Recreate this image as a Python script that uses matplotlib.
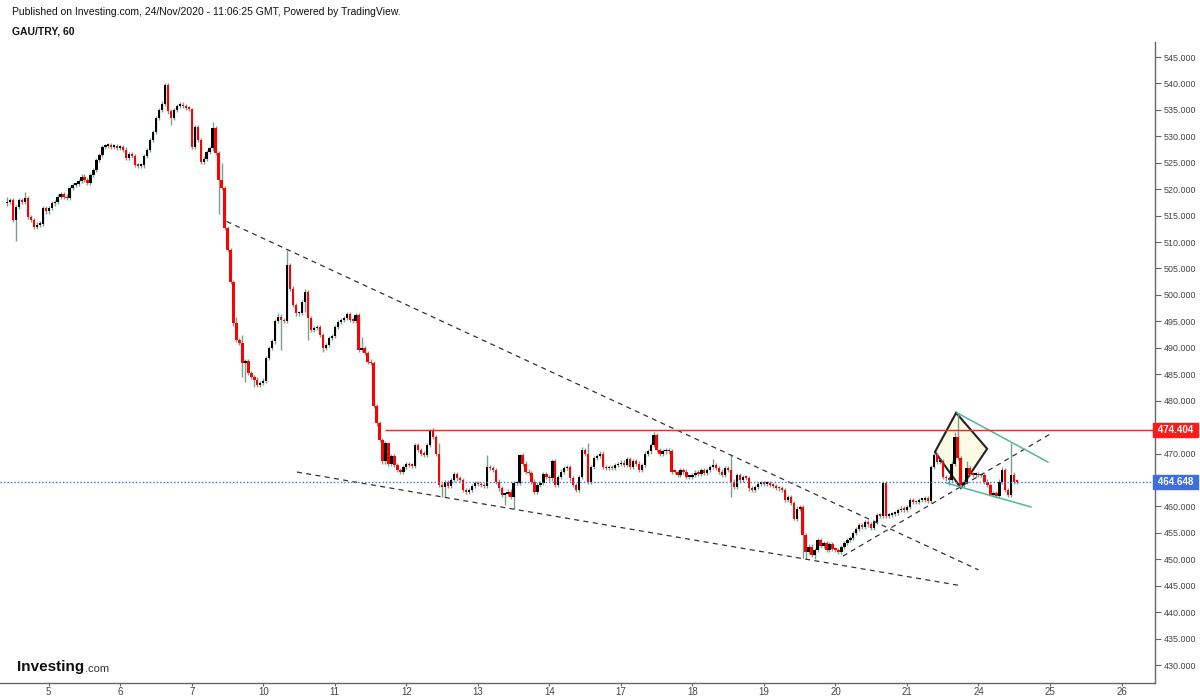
import matplotlib
matplotlib.use('Agg')
import matplotlib.pyplot as plt
import matplotlib.transforms as mtransforms
from matplotlib.patches import Polygon
import numpy as np

plt.rcParams['font.family'] = ['Liberation Sans', 'DejaVu Sans']

# ---- data (GAU/TRY, hourly) ----
first_open = 517.3
closes = [
    # 4th (partial)
    517.6, 518.0, 514.2, 516.7, 518.0, 517.6, 518.3, 514.8, 514.2, 512.8, 513.3, 513.5, 516.4, 515.8,
    # 5
    516.5, 517.3, 517.6, 518.6, 519.0, 518.6, 518.3, 520.2, 520.8, 521.0, 521.5, 522.4,
    521.8, 521.1, 522.7, 523.6, 525.5, 526.5, 528.0, 528.2, 528.3, 528.0, 528.1, 527.8,
    # 6
    527.9, 527.5, 525.9, 526.6, 526.3, 524.6, 524.4, 524.5, 526.3, 527.4, 529.3, 530.8,
    533.4, 535.0, 536.2, 539.7, 534.7, 533.5, 535.0, 535.8, 536.0, 535.7, 535.4, 535.2,
    # 7
    528.0, 531.8, 529.3, 525.2, 525.8, 527.1, 527.7, 531.5, 526.8, 521.7, 520.2, 512.6,
    508.5, 502.5, 494.6, 491.5, 491.0, 487.1, 487.5, 485.2, 484.5, 484.0, 483.0, 483.4,
    # 10
    483.8, 488.0, 489.9, 491.2, 495.0, 495.9, 495.2, 495.0, 505.7, 501.2, 498.1, 496.5,
    496.6, 498.7, 500.6, 495.6, 493.4, 493.7, 493.9, 492.4, 489.9, 490.5, 491.8, 492.2,
    # 11
    494.0, 494.9, 495.3, 495.6, 496.3, 495.3, 495.1, 496.2, 489.6, 489.9, 489.0, 487.4,
    487.1, 479.0, 475.7, 472.6, 468.5, 471.9, 468.1, 469.5, 467.8, 466.9, 466.6, 467.5,
    # 12
    468.0, 467.8, 467.7, 471.6, 470.7, 470.0, 469.8, 471.6, 474.4, 473.2, 470.0, 464.0,
    463.7, 464.6, 463.8, 465.0, 466.2, 465.3, 465.0, 463.1, 462.8, 463.1, 463.8, 464.4,
    # 13
    464.2, 464.0, 463.8, 467.5, 467.2, 466.9, 464.7, 463.4, 462.2, 462.3, 462.8, 461.8,
    464.4, 464.5, 469.7, 468.1, 466.6, 466.3, 464.7, 462.8, 464.0, 464.4, 466.2, 465.6,
    # 14
    465.3, 468.5, 464.0, 465.6, 466.6, 467.2, 467.5, 465.3, 464.0, 463.1, 465.6, 470.7,
    470.0, 464.7, 467.5, 469.1, 469.5, 470.0, 467.5, 467.2, 467.5, 467.2, 467.8, 468.0,
    # 17
    468.3, 467.8, 468.9, 467.5, 468.5, 468.1, 466.9, 467.8, 470.0, 470.4, 471.6, 473.5,
    470.7, 470.0, 470.4, 470.6, 470.4, 466.6, 466.5, 466.0, 466.9, 466.6, 465.6, 465.6,
    # 18
    466.0, 466.4, 466.2, 466.9, 466.3, 466.9, 467.5, 467.8, 467.2, 466.6, 466.0, 467.2,
    466.9, 464.7, 463.7, 466.0, 465.0, 465.6, 465.4, 463.4, 463.1, 463.6, 464.3, 464.4,
    # 19
    464.3, 464.5, 464.1, 463.9, 463.5, 463.4, 463.1, 461.2, 461.8, 460.6, 457.7, 459.6,
    459.9, 454.6, 451.4, 452.4, 450.8, 451.8, 453.6, 452.5, 453.1, 451.8, 452.8, 452.0,
    # 20
    451.8, 451.4, 452.3, 453.1, 453.6, 454.0, 454.9, 455.8, 456.5, 456.2, 457.1, 456.6,
    456.0, 457.1, 458.4, 458.2, 464.4, 458.2, 458.4, 458.6, 458.8, 459.3, 459.6, 459.4,
    # 21
    459.9, 461.2, 460.9, 460.8, 461.2, 461.2, 461.5, 461.0, 467.5, 469.7, 468.4, 468.6,
    465.6, 465.3, 465.0, 468.1, 473.2, 469.1, 464.0, 464.7, 467.2, 466.2, 466.0, 466.2,
    # 24 (partial)
    465.9, 465.9, 464.7, 464.0, 462.2, 462.5, 462.0, 464.7, 466.9, 463.1, 462.2, 465.9,
    464.7, 464.648,
]

# long wicks (bar index -> price)
highs = {0: 518.5, 6: 519.5, 53: 540.0, 62: 535.4, 69: 532.8, 72: 524.9, 77: 495.9,
         79: 492.4, 91: 496.5, 94: 508.5, 100: 501.1, 119: 492.0, 128: 470.4, 142: 474.6,
         145: 471.9, 161: 469.7, 172: 470.0, 183: 469.0, 193: 471.3, 195: 471.9,
         217: 474.1, 237: 469.0, 243: 469.7, 294: 464.7, 318: 474.1, 319: 477.6,
         322: 468.5, 334: 467.5, 337: 471.9, 338: 466.5}
lows = {3: 510.2, 9: 512.4, 55: 532.1, 71: 515.4, 79: 484.5, 80: 483.5, 83: 482.6,
        92: 489.5, 100: 496.8, 101: 491.5, 106: 489.3, 146: 461.8, 147: 461.8,
        167: 460.3, 170: 459.6, 177: 462.3, 243: 461.8, 264: 457.4, 267: 450.2,
        268: 450.1, 271: 450.0, 316: 464.0, 320: 463.4, 330: 461.9, 337: 461.8}

day_labels = ['5', '6', '7', '10', '11', '12', '13', '14', '17', '18', '19', '20', '21', '24', '25', '26']
day_starts = [14, 38, 62, 86, 110, 134, 158, 182, 206, 230, 254, 278, 302, 326, 350, 374]

resistance = 474.404
last_price = 464.648
resistance_start = 126.8

# drawings: (bar index, price)
upper_trend = [(73.7, 513.9), (326.0, 448.0)]
lower_trend = [(97.3, 466.5), (319.1, 445.1)]
rising_trend = [(280.5, 450.6), (350.7, 473.9)]
flag_top = [(318.8, 477.7), (349.3, 468.4)]
flag_bottom = [(315.4, 464.4), (343.6, 459.9)]
diamond = [(311.4, 470.3), (318.5, 477.7), (328.9, 470.9), (320.1, 463.5)]

# ---- figure ----
fig = plt.figure(figsize=(12, 7), dpi=100)
ax = fig.add_axes([0, 17 / 700, 1155 / 1200, (683 - 42) / 700])
ax.set_xlim(-7 / 2.98, (1155 - 7) / 2.98)
ax.set_ylim(426.6, 547.84)

c = np.array(closes)
o = np.r_[first_open, c[:-1]]
idx = np.arange(len(c))
hi = np.maximum(o, c) + 0.4
lo = np.minimum(o, c) - 0.4
for k, v in highs.items():
    hi[k] = v
for k, v in lows.items():
    lo[k] = v
up = c >= o
body = np.maximum(np.abs(c - o), 0.3)
bottom = np.minimum(o, c)

ax.add_patch(Polygon(diamond, closed=True, facecolor='#fdfbe3', edgecolor='#222222',
                     lw=1.5, zorder=1))

ax.vlines(idx, lo, hi, color='#7e9e8c', lw=1.0, zorder=2)
ax.bar(idx[up], body[up], bottom=bottom[up], width=0.78, color='#000000', lw=0, zorder=3)
ax.bar(idx[~up], body[~up], bottom=bottom[~up], width=0.78, color='#ff0000', lw=0, zorder=3)

dash = (0, (4, 3.5))
for line in (upper_trend, lower_trend, rising_trend):
    xs, ys = zip(*line)
    ax.plot(xs, ys, color='#333333', lw=0.9, ls=dash, zorder=4)
for line in (flag_top, flag_bottom):
    xs, ys = zip(*line)
    ax.plot(xs, ys, color='#4fb89a', lw=1.1, zorder=4)

ax.hlines(resistance, resistance_start, ax.get_xlim()[1], color='#ff2222', lw=1, zorder=4)
ax.axhline(last_price, color='#3d6ee0', lw=1, ls=(0, (1, 1.5)), zorder=4)

# axes styling
for s in ('left', 'top'):
    ax.spines[s].set_visible(False)
for s in ('right', 'bottom'):
    ax.spines[s].set_color('#666666')
    ax.spines[s].set_linewidth(1)
ax.yaxis.tick_right()
yt = np.arange(430, 546, 5)
ax.set_yticks(yt)
# the 465 and 475 labels sit under the price boxes
ax.set_yticklabels(['' if v in (465, 475) else f'{v:.3f}' for v in yt])
ax.tick_params(axis='y', length=4, width=0.8, colors='#666666', labelcolor='#444444',
               labelsize=6.4, pad=2.5)
ax.set_xticks(day_starts)
ax.set_xticklabels(day_labels)
ax.tick_params(axis='x', length=2.5, width=0.8, colors='#666666', labelcolor='#444444',
               labelsize=7, pad=0.5)

trans = mtransforms.blended_transform_factory(ax.transAxes, ax.transData)
ax.text(1.0, resistance, f' {resistance:.3f} ', transform=trans, ha='left', va='center',
        color='white', fontsize=7, fontweight='bold', zorder=10, clip_on=False,
        bbox=dict(boxstyle='square,pad=0.2', fc='#ff1a1a', ec='#ff1a1a'))
ax.text(1.0, last_price, f' {last_price:.3f} ', transform=trans, ha='left', va='center',
        color='white', fontsize=7, fontweight='bold', zorder=10, clip_on=False,
        bbox=dict(boxstyle='square,pad=0.2', fc='#3d6ee0', ec='#3d6ee0'))

fig.text(12 / 1200, 1 - 12 / 700,
         'Published on Investing.com, 24/Nov/2020 - 11:06:25 GMT, Powered by TradingView.',
         fontsize=7.5, color='#111111', ha='left', va='center')
fig.text(12 / 1200, 1 - 31 / 700, 'GAU/TRY, 60', fontsize=7.5, fontweight='bold',
         color='#111111', ha='left', va='center')

logo = fig.text(17 / 1200, 1 - 671 / 700, 'Investing', fontsize=11, fontweight='bold',
                color='#111111', ha='left', va='baseline')
ax.annotate('.com', xy=(1, 0), xycoords=logo, xytext=(0.3, 0), textcoords='offset points',
            fontsize=8, color='#333333', ha='left', va='bottom', annotation_clip=False)

fig.savefig('out.png', dpi=100)
